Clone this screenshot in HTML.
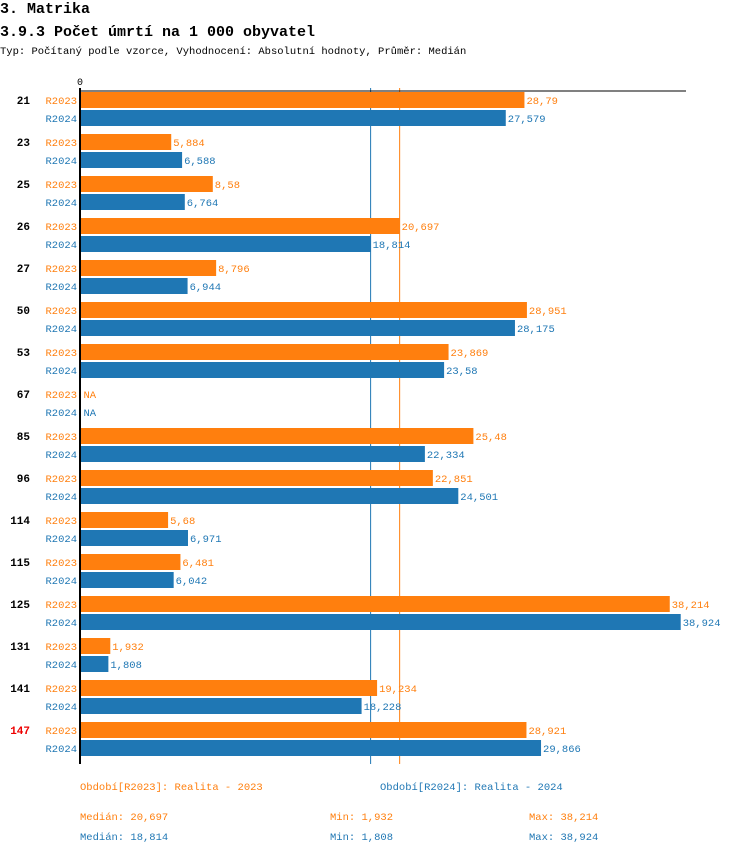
<!DOCTYPE html>
<html><head><meta charset="utf-8"><style>
body{margin:0;background:#fff;width:750px;height:854px;overflow:hidden;font-family:"Liberation Mono","DejaVu Sans Mono",monospace}
svg text{font-family:"Liberation Mono","DejaVu Sans Mono",monospace}
</style></head><body>
<svg id="c" width="750" height="854">
<text x="0" y="13" font-size="15" font-weight="bold">3. Matrika</text>
<text x="0" y="36" font-size="15" font-weight="bold">3.9.3 Počet úmrtí na 1 000 obyvatel</text>
<text x="0" y="54" font-size="10.5">Typ: Počítaný podle vzorce, Vyhodnocení: Absolutní hodnoty, Průměr: Medián</text>
<text x="80" y="85" font-size="10" text-anchor="middle">0</text>
<g id="g"></g>
<text x="80" y="790" font-size="10.5" fill="#ff7f0e">Období[R2023]: Realita - 2023</text>
<text x="380" y="790" font-size="10.5" fill="#1f77b4">Období[R2024]: Realita - 2024</text>
<text x="80" y="820" font-size="10.5" fill="#ff7f0e">Medián: 20,697</text>
<text x="330" y="820" font-size="10.5" fill="#ff7f0e">Min: 1,932</text>
<text x="529" y="820" font-size="10.5" fill="#ff7f0e">Max: 38,214</text>
<text x="80" y="840" font-size="10.5" fill="#1f77b4">Medián: 18,814</text>
<text x="330" y="840" font-size="10.5" fill="#1f77b4">Min: 1,808</text>
<text x="529" y="840" font-size="10.5" fill="#1f77b4">Max: 38,924</text>
</svg>
<script>
const categories=["21","23","25","26","27","50","53","67","85","96","114","115","125","131","141","147"];
const r2023=[28.79,5.884,8.58,20.697,8.796,28.951,23.869,null,25.48,22.851,5.68,6.481,38.214,1.932,19.234,28.921];
const r2024=[27.579,6.588,6.764,18.814,6.944,28.175,23.58,null,22.334,24.501,6.971,6.042,38.924,1.808,18.228,29.866];
const medians=[20.697,18.814];
const highlighted=["147"];
const NS="http://www.w3.org/2000/svg";
const g=document.getElementById('g');
const X0=80.5,K=15.42;
const x=v=>X0+v*K;
const yTop=i=>92+i*42;
function el(t,a,txt){const e=document.createElementNS(NS,t);for(const k in a)e.setAttribute(k,a[k]);if(txt!=null)e.textContent=txt;g.appendChild(e);return e;}
const fmt=v=>String(v).replace('.',',');
const cols=["#ff7f0e","#1f77b4"],names=["R2023","R2024"],ser=[r2023,r2024];
medians.forEach((m,j)=>{
  const l=el('line',{x1:x(m),x2:x(m),y1:88,y2:764,stroke:cols[j],'stroke-width':1});
  
  
});
categories.forEach((c,i)=>{
  const y=yTop(i);
  const lab=el('text',{x:30,y:y+12,'font-size':11,'font-weight':'bold','text-anchor':'end',fill:highlighted.includes(c)?'#e00':'#000'},c);
  
  
  ser.forEach((s,j)=>{
    const by=y+j*18;
    const sl=el('text',{x:77,y:by+12,'font-size':10.5,'text-anchor':'end',fill:cols[j]},names[j]);
    
    
    const v=s[i];
    if(v==null){
      const na=el('text',{x:X0+3,y:by+12,'font-size':10.5,fill:cols[j]},'NA');
      
      
      return;
    }
    const r=el('rect',{x:X0,y:by,width:x(v)-X0,height:16,fill:cols[j]});
    
    
    const vt=el('text',{x:x(v)+2,y:by+12,'font-size':10.5,fill:cols[j]},fmt(v));
    
    
  });
});
const ax=el('line',{x1:80,x2:80,y1:88,y2:764,stroke:'#000','stroke-width':2});


const tl=el('line',{x1:80,x2:686,y1:91,y2:91,stroke:'#000','stroke-width':1});


</script>
</body></html>
